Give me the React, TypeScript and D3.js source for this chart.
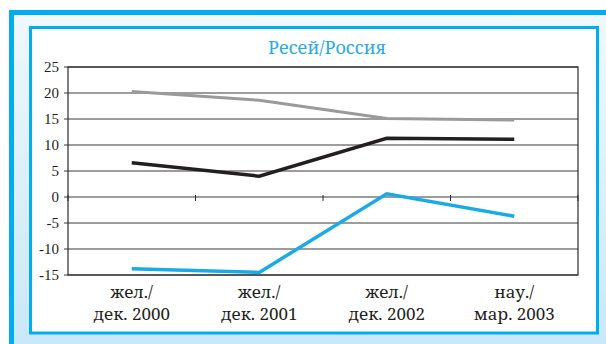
import React from "react";
import * as d3 from "d3";

const categories: string[][] = [
  ["жел./", "дек. 2000"],
  ["жел./", "дек. 2001"],
  ["жел./", "дек. 2002"],
  ["нау./", "мар. 2003"],
];
const seriesGray: number[] = [20.3, 18.6, 15.1, 14.8];
const seriesBlack: number[] = [6.6, 4.0, 11.3, 11.1];
const seriesBlue: number[] = [-13.8, -14.5, 0.6, -3.7];
const yTicks: number[] = [25, 20, 15, 10, 5, 0, -5, -10, -15];
const title = "Ресей/Россия";

const W = 606;
const H = 344;
const plot = { left: 68, right: 578, top: 67, bottom: 275 };
const LABEL_FONT = "Noto Serif";
const TICK_FONT = "Liberation Serif";
const BLUE = "#00aeef";

export default function App() {
  const x = d3
    .scaleBand<number>()
    .domain(categories.map((_, i) => i))
    .range([plot.left, plot.right]);
  const y = d3.scaleLinear().domain([-15, 25]).range([plot.bottom, plot.top]);
  const cx = (i: number) => (x(i) as number) + x.bandwidth() / 2;
  const line = d3
    .line<number>()
    .x((_, i) => cx(i))
    .y((d) => y(d));
  const boundaries = d3.range(categories.length + 1).map((i) => plot.left + i * x.bandwidth());

  const series = [
    { data: seriesGray, color: "#9a9a9a", width: 3 },
    { data: seriesBlack, color: "#231f20", width: 3.5 },
    { data: seriesBlue, color: "#1aaae6", width: 3.5 },
  ];

  return (
    <svg
      width={W}
      height={H}
      style={{ position: "absolute", left: 0, top: 0, display: "block" }}
    >
      <defs>
        <linearGradient id="bgGrad" x1="0" y1="0" x2="0" y2="1">
          <stop offset="0" stopColor="#f0f8fd" />
          <stop offset="1" stopColor="#c7e7f8" />
        </linearGradient>
      </defs>
      <rect x={0} y={0} width={W} height={H} fill="#ffffff" />
      {/* outer frame */}
      <rect x={9} y={10} width={W} height={H} fill="url(#bgGrad)" />
      <rect x={9} y={10} width={5} height={H} fill={BLUE} />
      <rect x={9} y={10} width={W} height={5} fill={BLUE} />
      {/* inner white panel */}
      <rect x={30.5} y={27.5} width={567} height={305.5} fill="#ffffff" stroke={BLUE} strokeWidth={3} />

      <text
        x={(plot.left + plot.right) / 2 + 4}
        y={54}
        textAnchor="middle"
        fontFamily={LABEL_FONT}
        fontSize={18}
        fill="#29abe2"
      >
        {title}
      </text>

      {/* gridlines */}
      {yTicks.map((t) => (
        <line
          key={"g" + t}
          x1={plot.left - 4}
          x2={plot.right}
          y1={y(t)}
          y2={y(t)}
          stroke="#3a3a3a"
          strokeWidth={1}
        />
      ))}
      {/* plot frame */}
      <rect
        x={plot.left}
        y={plot.top}
        width={plot.right - plot.left}
        height={plot.bottom - plot.top}
        fill="none"
        stroke="#2a2a2a"
        strokeWidth={1.2}
      />
      {/* category ticks on zero axis */}
      {boundaries.map((bx, i) => (
        <line key={"xt" + i} x1={bx} x2={bx} y1={y(0) - 2} y2={y(0) + 4} stroke="#2a2a2a" strokeWidth={1} />
      ))}

      {/* y tick labels */}
      {yTicks.map((t) => (
        <text
          key={"yl" + t}
          x={59}
          y={y(t)}
          dy="0.35em"
          textAnchor="end"
          fontFamily={TICK_FONT}
          fontSize={15}
          fill="#231f20"
        >
          {t}
        </text>
      ))}

      {/* series */}
      {series.map((s, i) => (
        <path
          key={"s" + i}
          d={line(s.data) || ""}
          fill="none"
          stroke={s.color}
          strokeWidth={s.width}
          strokeLinejoin="miter"
        />
      ))}

      {/* x labels */}
      {categories.map((c, i) => (
        <text
          key={"xl" + i}
          x={cx(i)}
          textAnchor="middle"
          fontFamily={LABEL_FONT}
          fontSize={17}
          fill="#231f20"
        >
          <tspan x={cx(i)} y={298}>{c[0]}</tspan>
          <tspan x={cx(i)} y={320}>{c[1]}</tspan>
        </text>
      ))}
    </svg>
  );
}
